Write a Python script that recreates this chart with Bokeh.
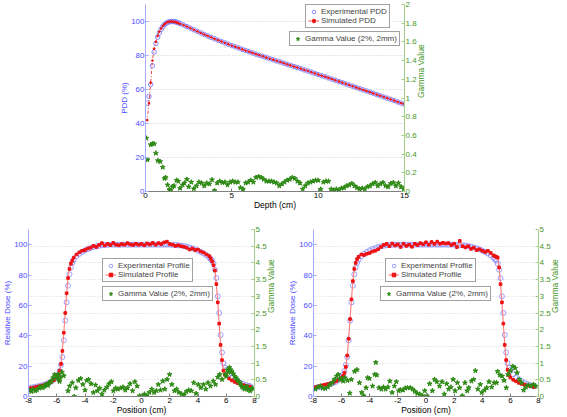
import math
from bokeh.plotting import figure
from bokeh.models import (Range1d, LinearAxis, FixedTicker, Legend, LegendItem, Grid,
                          Spacer, CustomJSTickFormatter)
from bokeh.layouts import column, row
from bokeh.embed import file_html
from bokeh.resources import INLINE

# ---------------- data: depth dose (top) ----------------
pdd_depth = [0.1, 0.2, 0.3, 0.4, 0.5, 0.6, 0.7, 0.8, 0.9, 1.0,
             1.1, 1.2, 1.3, 1.4, 1.5, 1.6, 1.7, 1.8, 1.9, 2.0,
             2.2, 2.4, 2.6, 2.8, 3.0, 3.2, 3.4, 3.6, 3.8, 4.0,
             4.2, 4.4, 4.6, 4.8, 5.0, 5.2, 5.4, 5.6, 5.8, 6.0,
             6.2, 6.4, 6.6, 6.8, 7.0, 7.2, 7.4, 7.6, 7.8, 8.0,
             8.2, 8.4, 8.6, 8.8, 9.0, 9.2, 9.4, 9.6, 9.8, 10.0,
             10.2, 10.4, 10.6, 10.8, 11.0, 11.2, 11.4, 11.6, 11.8, 12.0,
             12.2, 12.4, 12.6, 12.8, 13.0, 13.2, 13.4, 13.6, 13.8, 14.0,
             14.2, 14.4, 14.6, 14.8, 15.0]
pdd_exp_buildup = [52, 56, 63, 74, 82, 87, 90.8, 93.3, 95.4, 97.0,
                   98.2, 99.0, 99.6, 99.9, 100, 100, 99.9, 99.6, 99.2, 98.8]
pdd_sim_buildup = [42, 52, 64, 77, 84, 88, 91.5, 94, 95.8, 97.3,
                   98.4, 99.2, 99.7, 100, 100, 99.9, 99.7, 99.4, 99.0, 98.6]
pdd_falloff = [97.9, 97.0, 96.1, 95.1, 94.2, 93.3, 92.4, 91.5, 90.7, 89.8,
               89.0, 88.2, 87.4, 86.6, 85.8, 85.1, 84.4, 83.6, 82.9, 82.2,
               81.5, 80.8, 80.1, 79.5, 78.8, 78.1, 77.5, 76.8, 76.2, 75.5,
               74.8, 74.2, 73.5, 72.9, 72.2, 71.5, 70.9, 70.2, 69.5, 68.8,
               68.1, 67.5, 66.8, 66.1, 65.4, 64.7, 64.0, 63.3, 62.6, 61.9,
               61.2, 60.5, 59.8, 59.1, 58.4, 57.7, 57.0, 56.3, 55.6, 54.9,
               54.2, 53.5, 52.7, 52.0, 51.3]
pdd_exp = pdd_exp_buildup + pdd_falloff
pdd_sim = pdd_sim_buildup + pdd_falloff

gamma_depth = [0.05, 0.12, 0.3, 0.4, 0.5, 0.6, 0.72, 0.85, 1.0, 1.1,
               1.17, 1.28, 1.38, 1.46, 1.55, 1.65, 1.8, 1.9, 2.0, 2.15,
               2.25, 2.4, 2.5, 2.65, 2.8, 2.95, 3.1, 3.25, 3.4, 3.55,
               3.7, 3.85, 4.0, 4.15, 4.3, 4.45, 4.6, 4.75, 4.9, 5.05,
               5.2, 5.35, 5.5, 5.65, 5.8, 5.95, 6.1, 6.25, 6.4, 6.55,
               6.7, 6.85, 7.0, 7.15, 7.3, 7.45, 7.6, 7.75, 7.9, 8.05,
               8.2, 8.35, 8.5, 8.65, 8.8, 8.95, 9.1, 9.25, 9.4, 9.55,
               9.7, 9.85, 10.0, 10.15, 10.3, 10.45, 10.6, 10.75, 10.9, 11.05,
               11.2, 11.35, 11.5, 11.65, 11.8, 11.95, 12.1, 12.25, 12.4, 12.55,
               12.7, 12.85, 13.0, 13.15, 13.3, 13.45, 13.6, 13.75, 13.9, 14.05,
               14.2, 14.35, 14.5, 14.65, 14.8, 14.95]
gamma_pdd = [0.57, 0.34, 0.50, 0.51, 0.51, 0.41, 0.33, 0.32, 0.26, 0.14,
             0.15, 0.07, 0.02, 0.01, 0.05, 0.06, 0.12, 0.11, 0.035, 0.07,
             0.09, 0.13, 0.05, 0.10, 0.03, 0.06, 0.10, 0.09, 0.06, 0.09,
             0.08, 0.125, 0.01, 0.09, 0.11, 0.095, 0.10, 0.07, 0.10, 0.11,
             0.10, 0.10, 0.04, 0.025, 0.09, 0.10, 0.12, 0.10, 0.15, 0.16,
             0.15, 0.13, 0.11, 0.11, 0.11, 0.10, 0.09, 0.06, 0.08, 0.10,
             0.12, 0.13, 0.15, 0.14, 0.11, 0.09, 0.025, 0.06, 0.09, 0.10,
             0.11, 0.12, 0.12, 0.025, 0.10, 0.11, 0.11, 0.025, 0.015, 0.025,
             0.015, 0.035, 0.04, 0.06, 0.07, 0.085, 0.06, 0.04, 0.025, 0.035,
             0.025, 0.05, 0.06, 0.08, 0.095, 0.06, 0.08, 0.095, 0.06, 0.05,
             0.085, 0.095, 0.06, 0.09, 0.05, 0.025]

# ---------------- data: profiles (bottom) ----------------
prof_x = [-8.0, -7.8, -7.6, -7.4, -7.2, -7.0, -6.8, -6.6, -6.4, -6.2, -6.0,
          -5.9, -5.8, -5.7, -5.6, -5.5, -5.4, -5.3, -5.2, -5.1, -5.0, -4.9, -4.8,
          -4.6, -4.4, -4.2, -4.0, -3.8, -3.6, -3.4, -3.2, -3.0, -2.8, -2.6, -2.4,
          -2.2, -2.0, -1.8, -1.6, -1.4, -1.2, -1.0, -0.8, -0.6, -0.4, -0.2, 0.0,
          0.2, 0.4, 0.6, 0.8, 1.0, 1.2, 1.4, 1.6, 1.8, 2.0, 2.2, 2.4,
          2.6, 2.8, 3.0, 3.2, 3.4, 3.6, 3.8, 4.0, 4.2, 4.4, 4.6, 4.8,
          4.9, 5.0, 5.1, 5.2, 5.3, 5.4, 5.5, 5.6, 5.7, 5.8, 5.9, 6.0,
          6.2, 6.4, 6.6, 6.8, 7.0, 7.2, 7.4, 7.6, 7.7]
prof_exp = [5.5, 5.9, 6.2, 6.6, 7.0, 7.5, 8.1, 8.8, 9.7, 11.0, 12.8,
            14.3, 16.8, 20.8, 26, 37, 50, 62, 73, 80.5, 85, 88, 90,
            92.5, 94.0, 95.3, 96.3, 97.1, 97.8, 98.4, 98.9, 99.3, 99.6, 99.8, 99.9,
            100, 100, 100, 100, 100, 100, 100, 100, 100, 100, 100, 100,
            100, 100, 100, 100, 100, 100, 100, 100, 100, 100, 99.9, 99.8,
            99.6, 99.4, 99.1, 98.7, 98.2, 97.6, 96.9, 96.1, 95.2, 94.2, 93.0, 91.5,
            90.5, 89.5, 87.5, 83.5, 78, 66, 55, 40.5, 29, 22, 19, 17.5,
            14.6, 12.6, 11.2, 10.0, 9.0, 8.2, 7.5, 7.0, 6.7]
prof_sim_a = [5.3, 5.5, 6.0, 6.4, 6.9, 7.3, 8.0, 8.7, 9.6, 10.8, 12.5,
              14.5, 17.0, 21.5, 30, 42, 55, 68, 78, 84, 87.5, 89.5, 91.5,
              93.5, 95.0, 96.0, 96.5, 97.5, 98.0, 99.2, 98.5, 99.8, 101.0, 99.5, 100.5,
              99.8, 101.2, 100.0, 99.6, 100.4, 100.0, 101.0, 100.2, 99.8, 100.6, 100.0, 100.4,
              99.6, 100.8, 100.2, 101.2, 100.0, 101.0, 100.4, 101.5, 102.0, 100.4, 100.0, 99.2,
              99.6, 99.0, 98.6, 98.0, 96.8, 97.5, 96.5, 96.8, 95.5, 94.8, 93.5, 92.5,
              91, 89, 86.5, 83, 74, 62, 48, 34, 24, 17, 14.5, 13.5,
              11.8, 10.6, 9.6, 8.8, 8.1, 7.5, 7.0, 6.6, 6.4]
prof_sim_b = [5.8, 6.3, 6.8, 7.3, 7.8, 8.2, 8.7, 9.3, 10.0, 11.0, 12.3,
              13.5, 15.5, 19.5, 27, 38, 51, 64, 76, 84, 88, 90.5, 92,
              93.5, 93.2, 94.0, 94.5, 95.5, 96.0, 97.0, 98.5, 99.8, 100.5, 99.0, 100.8,
              99.5, 100.2, 98.5, 100.6, 99.2, 100.0, 98.6, 100.6, 99.8, 101.0, 100.2, 101.6,
              100.0, 101.8, 100.5, 102.0, 100.6, 101.2, 100.8, 101.0, 99.8, 100.6, 98.4, 102.5,
              99.0, 98.2, 99.0, 97.2, 98.0, 96.4, 97.0, 96.0, 95.2, 96.0, 94.6, 93.0,
              92.4, 92.0, 91.5, 85, 74, 62, 48, 34, 24, 17.5, 14.0, 12.5,
              11.0, 10.0, 9.0, 8.3, 7.8, 7.3, 6.9, 6.5, 6.3]

gamma_a_x = [-7.93, -7.7, -7.52, -7.25, -7.06, -6.88, -6.72, -6.56, -6.38, -6.26,
             -6.15, -6.03, -5.92, -5.85, -5.74, -5.63, -5.2, -5.09, -4.9, -4.76,
             -4.65, -4.47, -4.31, -4.15, -4.0, -3.87, -3.75, -3.57, -3.41, -3.25,
             -3.12, -2.96, -2.8, -2.63, -2.45, -2.29, -2.13, -1.99, -1.83, -1.68,
             -1.5, -1.31, -1.15, -0.99, -0.81, -0.63, -0.47, -0.31, -0.13, 0.05,
             0.21, 0.37, 0.55, 0.73, 0.89, 1.05, 1.19, 1.35, 1.51, 1.65,
             1.81, 1.99, 2.15, 2.33, 2.49, 2.65, 2.84, 3.02, 3.18, 3.34,
             3.52, 3.7, 3.86, 4.02, 4.2, 4.39, 4.55, 4.71, 4.89, 5.08,
             5.24, 5.4, 5.54, 5.7, 5.93, 6.09, 6.23, 6.39, 6.5, 6.69,
             6.85, 7.01, 7.19, 7.37, 7.53, 7.69, 7.87,
             -7.8, -7.4, -7.15, -6.95, -6.8, -6.62, -6.45, -5.97, -5.8, -5.5,
             6.0, 6.15, 6.3, 6.6, 6.78, 6.95, 7.1, 7.3, 7.45, 7.6, 7.78]
gamma_a = [0.17, 0.22, 0.17, 0.25, 0.26, 0.31, 0.36, 0.40, 0.46, 0.56,
           0.66, 0.61, 0.66, 0.50, 0.58, 0.73, 0.17, 0.31, 0.41, 0.0,
           0.26, 0.48, 0.54, 0.36, 0.19, 0.48, 0.51, 0.38, 0.12, 0.34,
           0.17, 0.25, 0.07, 0.19, 0.28, 0.38, 0.44, 0.17, 0.25, 0.22,
           0.25, 0.28, 0.19, 0.26, 0.38, 0.17, 0.44, 0.31, 0.02, 0.0,
           0.07, 0.02, 0.12, 0.22, 0.12, 0.17, 0.36, 0.19, 0.46, 0.22,
           0.51, 0.66, 0.36, 0.17, 0.22, 0.12, 0.07, 0.05, 0.15, 0.19,
           0.17, 0.41, 0.09, 0.36, 0.26, 0.36, 0.22, 0.41, 0.31, 0.46,
           0.36, 0.58, 0.66, 0.51, 0.66, 0.80, 0.87, 0.75, 0.68, 0.56,
           0.46, 0.36, 0.26, 0.28, 0.22, 0.17, 0.25,
           0.15, 0.20, 0.30, 0.28, 0.35, 0.33, 0.45, 0.55, 0.45, 0.62,
           0.60, 0.72, 0.80, 0.60, 0.50, 0.42, 0.30, 0.22, 0.30, 0.20, 0.22]

gamma_b_x = [-7.86, -7.68, -7.51, -7.35, -7.16, -6.98, -6.82, -6.65, -6.52, -6.35,
             -6.24, -6.12, -6.0, -5.89, -5.77, -5.59, -5.42, -5.31, -5.08, -4.91,
             -4.73, -4.57, -4.43, -4.26, -4.15, -4.03, -3.8, -3.64, -3.57, -3.5,
             -3.34, -3.17, -3.03, -2.87, -2.71, -2.57, -2.41, -2.25, -2.11, -1.94,
             -1.83, -1.64, -1.48, -1.32, -1.13, -0.95, -0.79, -0.62, -0.44, -0.25,
             -0.09, 0.07, 0.26, 0.45, 0.61, 0.77, 0.96, 1.14, 1.3, 1.47,
             1.61, 1.77, 1.93, 2.07, 2.23, 2.39, 2.58, 2.77, 2.93, 3.04,
             3.23, 3.39, 3.51, 3.69, 3.86, 3.97, 4.16, 4.32, 4.48, 4.67,
             4.85, 5.02, 5.09, 5.25, 5.41, 5.55, 5.71, 5.83, 6.01, 6.18,
             6.34, 6.48, 6.64, 6.8, 6.94, 7.1, 7.27, 7.45, 7.64, 7.8]
gamma_b = [0.22, 0.28, 0.31, 0.25, 0.24, 0.28, 0.36, 0.41, 0.51, 0.61,
           0.66, 0.51, 0.54, 0.46, 0.56, 0.48, 0.10, 0.51, 0.75, 0.80,
           0.41, 0.12, 0.02, 0.26, 0.56, 0.54, 0.31, 0.66, 1.02, 0.64,
           0.26, 0.22, 0.28, 0.22, 0.28, 0.46, 0.12, 0.31, 0.44, 0.17,
           0.20, 0.19, 0.25, 0.26, 0.26, 0.22, 0.15, 0.09, 0.07, 0.02,
           0.17, 0.02, 0.38, 0.17, 0.51, 0.44, 0.31, 0.44, 0.07, 0.38,
           0.22, 0.28, 0.51, 0.17, 0.41, 0.26, 0.02, 0.41, 0.17, 0.26,
           0.46, 0.51, 0.77, 0.22, 0.36, 0.12, 0.19, 0.26, 0.44, 0.28,
           0.41, 0.41, 0.75, 0.64, 0.61, 0.48, 0.26, 0.66, 0.77, 0.90,
           0.85, 0.71, 0.51, 0.41, 0.19, 0.28, 0.34, 0.31, 0.36, 0.31]

pdd_left_ticks = [0, 20, 40, 60, 80, 100]
pdd_right_ticks = [0, 0.2, 0.4, 0.6, 0.8, 1.0, 1.2, 1.4, 1.6, 1.8, 2.0]
depth_ticks = [0, 5, 10, 15]
prof_left_ticks = [0, 20, 40, 60, 80, 100]
prof_right_ticks = [0, 0.5, 1, 1.5, 2, 2.5, 3, 3.5, 4, 4.5, 5]
pos_ticks = [-8, -6, -4, -2, 0, 2, 4, 6, 8]

for a, b in [(pdd_depth, pdd_exp), (pdd_depth, pdd_sim), (gamma_depth, gamma_pdd),
             (prof_x, prof_exp), (prof_x, prof_sim_a), (prof_x, prof_sim_b),
             (gamma_a_x, gamma_a), (gamma_b_x, gamma_b)]:
    assert len(a) == len(b), (len(a), len(b))

# ---------------- styling ----------------
FONT = "Liberation Sans"
BLUE_TXT = "#4a4aff"
BLUE_LINE = "#a8a8ff"
BLUE_MK = "#7a7aff"
GREEN_TXT = "#45961f"
GREEN_LINE = "#9fcf8a"
GREEN_MK = "#2f8a16"
RED = "#ee1111"
RED_LINE = "#ff7a7a"
FMT = CustomJSTickFormatter(code="return String(Math.round(tick*100)/100);")


def style_axis(ax, txt, line, ticks, label, side):
    ax.ticker = FixedTicker(ticks=ticks)
    ax.formatter = FMT
    ax.major_label_text_font = FONT
    ax.major_label_text_font_size = "8px"
    ax.major_label_text_color = txt
    ax.major_label_standoff = 1
    ax.axis_line_color = line
    ax.major_tick_line_color = line
    ax.major_tick_in = 3
    ax.major_tick_out = 0
    ax.minor_tick_line_color = None
    ax.axis_label = label
    ax.axis_label_text_font = FONT
    ax.axis_label_text_font_size = "8px" if side == "left" else "8.5px"
    ax.axis_label_text_font_style = "normal"
    ax.axis_label_text_color = txt
    ax.axis_label_standoff = {"below": -1, "left": -1, "right": 1}[side]
    if side == "right":
        try:
            ax.axis_label_orientation = math.pi / 2
        except Exception:
            pass


def make_fig(w, h, bl, br, bt, bb, xr, yr, gr):
    p = figure(width=w, height=h, output_backend="svg", toolbar_location=None,
               x_range=Range1d(*xr), y_range=Range1d(*yr),
               min_border_left=bl, min_border_right=br,
               min_border_top=bt, min_border_bottom=bb,
               outline_line_color=None, background_fill_color="white",
               border_fill_color="white")
    p.extra_y_ranges = {"g": Range1d(*gr)}
    p.xgrid.visible = False
    return p


def make_legend(items, loc):
    leg = Legend(items=items, location=loc)
    leg.label_text_font = FONT
    leg.label_text_font_size = "8px"
    leg.label_height = 9
    leg.glyph_height = 9
    leg.glyph_width = 11
    leg.label_standoff = 2
    leg.padding = 2
    leg.spacing = 0
    leg.margin = 0
    leg.border_line_color = "#444444"
    leg.border_line_width = 1
    leg.background_fill_color = "white"
    leg.background_fill_alpha = 1
    return leg


# ---------------- top: PDD ----------------
top = make_fig(330, 212, 35, 36, 4, 18, (0, 15), (0, 110), (0, 2))
top.ygrid.ticker = FixedTicker(ticks=[20, 40, 60, 80, 100])
top.ygrid.grid_line_color = "#cfcfcf"
top.ygrid.grid_line_dash = "1 2"
style_axis(top.xaxis[0], "black", "#808080", depth_ticks, "Depth (cm)", "below")
style_axis(top.yaxis[0], BLUE_TXT, BLUE_LINE, pdd_left_ticks, "PDD (%)", "left")
rax = LinearAxis(y_range_name="g")
style_axis(rax, GREEN_TXT, GREEN_LINE, pdd_right_ticks, "Gamma Value", "right")
top.add_layout(rax, "right")

r_exp = top.scatter(pdd_depth, pdd_exp, marker="circle", size=4.5, fill_color=None,
                    line_color=BLUE_MK, line_width=0.9)
r_siml = top.line([0.0] + pdd_depth, [pdd_sim[0]] + pdd_sim, line_color=RED,
                  line_width=0.8, line_dash="3 2 1 2")
r_simm = top.scatter(pdd_depth, pdd_sim, marker="circle", size=1.8, fill_color=RED,
                     line_color=RED)
r_g = top.scatter(gamma_depth, gamma_pdd, y_range_name="g", marker="star", size=5,
                  fill_color=GREEN_MK, line_color=GREEN_MK)
top.add_layout(make_legend([LegendItem(label="Experimental PDD", renderers=[r_exp]),
                            LegendItem(label="Simulated PDD", renderers=[r_siml, r_simm])],
                           (160, 163)))
top.add_layout(make_legend([LegendItem(label="Gamma Value (2%, 2mm)", renderers=[r_g])],
                           (144, 145)))


# ---------------- bottom: profiles ----------------
def profile_fig(w, bl, br, sim, gx, gy, lx1, lx2):
    p = make_fig(w, 205, bl, br, 17, 18, (-8, 8), (0, 110), (0, 5))
    p.ygrid.visible = False
    p.add_layout(Grid(dimension=1, y_range_name="g",
                      ticker=FixedTicker(ticks=[0.5, 1, 1.5, 2, 2.5, 3, 3.5, 4, 4.5]),
                      grid_line_color="#d6d6d6", grid_line_dash="1 2"))
    style_axis(p.xaxis[0], "black", "#808080", pos_ticks, "Position (cm)", "below")
    style_axis(p.yaxis[0], BLUE_TXT, BLUE_LINE, prof_left_ticks, "Relative Dose (%)", "left")
    ax = LinearAxis(y_range_name="g")
    style_axis(ax, GREEN_TXT, GREEN_LINE, prof_right_ticks, "Gamma Value", "right")
    p.add_layout(ax, "right")
    re = p.scatter(prof_x, prof_exp, marker="circle", size=5, fill_color=None,
                   line_color=BLUE_MK, line_width=0.9, line_alpha=0.8)
    rl = p.line(prof_x, sim, line_color=RED_LINE, line_width=1.1)
    rm = p.scatter(prof_x, sim, marker="square", size=2.6, fill_color=RED, line_color=RED)
    rg = p.scatter(gx, gy, y_range_name="g", marker="star", size=5,
                   fill_color=GREEN_MK, line_color=GREEN_MK)
    p.add_layout(make_legend([LegendItem(label="Experimental Profile", renderers=[re]),
                              LegendItem(label="Simulated Profile", renderers=[rl, rm])],
                             (lx1, 114)))
    p.add_layout(make_legend([LegendItem(label="Gamma Value (2%, 2mm)", renderers=[rg])],
                             (lx2, 95)))
    return p


bl_fig = profile_fig(283, 23, 27, prof_sim_a, gamma_a_x, gamma_a, 74, 74)
br_fig = profile_fig(284, 30, 24, prof_sim_b, gamma_b_x, gamma_b, 72, 67)

layout = column(row(Spacer(width=110, height=212), top), row(bl_fig, br_fig))

open("out.html", "w").write(file_html(layout, INLINE))
